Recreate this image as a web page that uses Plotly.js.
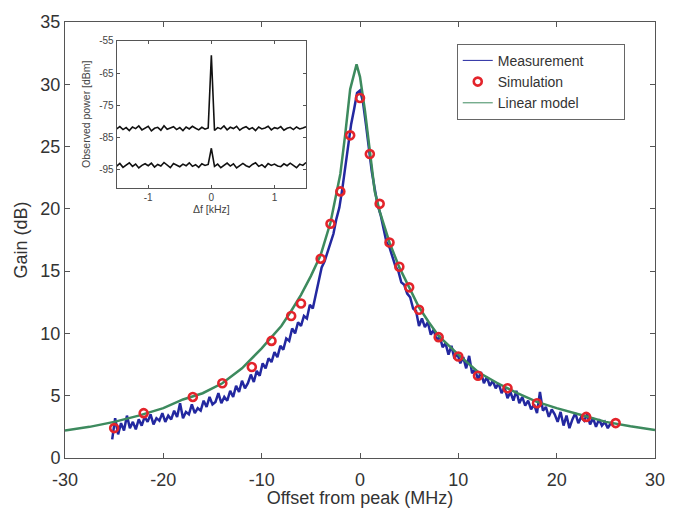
<!DOCTYPE html>
<html>
<head>
<meta charset="utf-8">
<script src="https://cdn.plot.ly/plotly-3.0.1.min.js"></script>
<style>html,body{margin:0;padding:0;background:#fff;}#chart{width:679px;height:508px;}</style>
</head>
<body>
<div id="chart"></div>
<script>
// ---- Main chart data ----
// Measurement (blue), sampled every 0.3 MHz from -25.2 MHz
const measStart = -25.2;
const measStep = 0.3;
const measGain = [
  1.5, 3.2, 1.9, 2.8, 2.2, 3.4, 2.4, 2.9, 2.3, 3.1,
  2.6, 3.3, 2.9, 3.5, 2.7, 3.2, 3.0, 3.6, 2.9, 3.4,
  3.1, 3.8, 3.3, 4.4, 3.2, 3.7, 3.5, 4.3, 3.6, 4.0,
  3.8, 4.6, 4.1, 4.9, 4.3, 4.5, 5.2, 4.4, 4.9, 4.6,
  5.4, 4.9, 5.8, 5.3, 6.2, 5.6, 6.0, 6.7, 6.1, 7.0,
  6.6, 7.6, 7.2, 8.0, 7.7, 8.5, 8.1, 9.0, 8.7, 9.6,
  9.4, 10.4, 10.0, 10.9, 10.6, 11.4, 11.2, 12.3, 12.0, 13.2,
  14.2, 15.3, 15.8, 16.6, 17.4, 18.0, 19.2, 20.1, 21.6, 23.4,
  25.2, 26.8, 28.0, 29.3, 29.5, 28.6, 26.8, 24.8, 23.0, 21.6,
  20.3, 19.5, 18.4, 17.3, 16.9, 16.2, 15.4, 15.0, 14.1, 13.9,
  13.2, 12.9, 12.0, 11.8, 10.6, 11.2, 10.5, 10.9, 9.9, 10.3,
  9.4, 9.8, 8.9, 9.2, 8.3, 9.0, 8.0, 8.4, 7.6, 8.1,
  7.2, 8.2, 6.8, 7.1, 6.3, 6.9, 6.0, 6.5, 5.8, 6.2,
  5.6, 6.0, 5.2, 5.7, 4.8, 5.3, 4.6, 5.4, 4.4, 4.9,
  4.2, 4.6, 3.9, 4.3, 3.6, 5.3, 3.8, 4.1, 3.3, 3.9,
  3.5, 2.9, 3.7, 2.6, 3.4, 2.4, 3.1, 3.6, 2.8, 3.3,
  3.0, 3.5, 2.7, 3.2, 2.5, 3.1, 2.6, 2.9, 2.4, 2.8,
  2.7
];
const measOffset = measGain.map((_, i) => +(measStart + i * measStep).toFixed(2));

// Simulation (red circles)
const simOffset = [-25, -22, -17, -14, -11, -9, -7, -6, -4, -3, -2, -1, 0, 1, 2, 3, 4, 5, 6, 8, 10, 12, 15, 18, 23, 26];
const simGain   = [2.4, 3.6, 4.9, 6.0, 7.3, 9.4, 11.4, 12.4, 16.0, 18.8, 21.4, 25.9, 28.9, 24.4, 20.4, 17.3, 15.35, 13.7, 11.9, 9.7, 8.15, 6.6, 5.6, 4.4, 3.3, 2.8];

// Linear model (green)
const linOffset = [-30, -27.5, -25, -22.5, -20, -18, -16, -14, -12, -11, -10, -9, -8, -7, -6, -5, -4, -3, -2.5, -2, -1.5, -1, -0.35, 0, 0.5, 1, 1.5, 2, 3, 4, 5, 6, 7, 8, 10, 12, 14, 16, 18, 20, 22.5, 25, 27.5, 30];
const linGain   = [2.2, 2.5, 2.9, 3.4, 4.0, 4.7, 5.2, 6.0, 7.2, 8.0, 8.8, 9.7, 10.6, 11.8, 13.1, 14.6, 16.3, 18.9, 20.8, 22.8, 26.0, 29.6, 31.6, 30.6, 27.9, 24.6, 21.4, 19.8, 17.3, 15.3, 13.7, 12.1, 10.9, 9.8, 8.3, 6.9, 6.0, 5.2, 4.5, 4.0, 3.45, 2.9, 2.55, 2.25];

// ---- Inset data (observed power vs delta f) ----
const insetStart = -1.5;
const insetStep = 0.05;
const powerUpper = [
  -82.3, -81.6, -82.5, -81.9, -82.8, -81.7, -82.2, -81.4, -82.6, -82.0,
  -81.5, -82.9, -82.1, -81.8, -82.7, -81.3, -82.4, -82.0, -81.6, -82.5,
  -81.9, -82.8, -81.7, -82.3, -81.5, -82.1, -82.6, -81.8, -82.4, -82.0,
  -59.5,
  -82.8, -81.9, -82.3, -81.4, -82.6, -81.8, -82.2, -81.5, -82.7, -82.0,
  -81.6, -82.4, -81.9, -82.8, -81.7, -82.3, -82.0, -81.5, -82.6, -81.9,
  -82.2, -81.6, -82.7, -82.1, -81.8, -82.5, -81.7, -82.3, -82.0, -81.6
];
const powerLower = [
  -93.8, -93.0, -94.2, -93.4, -92.8, -93.9, -93.2, -94.4, -93.6, -93.1,
  -93.7, -92.9, -94.1, -93.3, -93.8, -92.7, -93.5, -94.3, -93.0, -93.6,
  -94.0, -93.2, -93.7, -92.8, -93.9, -93.4, -94.2, -93.1, -93.6, -93.3,
  -88.3,
  -93.9, -93.2, -94.3, -93.5, -92.9, -93.8, -93.1, -94.4, -93.6, -93.0,
  -93.7, -94.1, -93.3, -92.8, -93.9, -93.4, -94.2, -93.0, -93.6, -93.2,
  -93.8, -94.0, -93.1, -93.7, -92.9, -93.5, -94.3, -93.2, -93.6, -92.7
];
const insetDf = powerUpper.map((_, i) => +(insetStart + i * insetStep).toFixed(3));

const xTicks = [-30, -20, -10, 0, 10, 20, 30];
const yTicks = [0, 5, 10, 15, 20, 25, 30, 35];
const insetXTicks = [-1, 0, 1];
const insetYTicks = [-95, -85, -75, -65, -55];

const BLUE = '#2328a0', GREEN = '#3d8a5e', RED = '#e3242b';
const FONT = 'Liberation Sans, Arial, sans-serif';
const PAD = '\u00a0'.repeat(9); // widens the legend box like the original

const traces = [
  {x: measOffset, y: measGain, type: 'scatter', mode: 'lines', name: 'Measurement',
   line: {color: BLUE, width: 2.5}, showlegend: false},
  {x: linOffset, y: linGain, type: 'scatter', mode: 'lines', name: 'Linear model',
   line: {color: GREEN, width: 2.5}, showlegend: false},
  {x: simOffset, y: simGain, type: 'scatter', mode: 'markers', name: 'Simulation',
   marker: {symbol: 'circle-open', size: 8, color: RED, line: {color: RED, width: 2.6}}, showlegend: false},
  // legend entries (thin sample lines as in the original legend)
  {x: [null], y: [null], type: 'scatter', mode: 'lines', name: 'Measurement' + PAD,
   line: {color: BLUE, width: 1}},
  {x: [null], y: [null], type: 'scatter', mode: 'markers', name: 'Simulation',
   marker: {symbol: 'circle-open', size: 8, color: RED, line: {color: RED, width: 2.6}}},
  {x: [null], y: [null], type: 'scatter', mode: 'lines', name: 'Linear model',
   line: {color: GREEN, width: 1}},
  // inset
  {x: insetDf, y: powerUpper, xaxis: 'x2', yaxis: 'y2', type: 'scatter', mode: 'lines',
   line: {color: '#111', width: 1.6}, showlegend: false},
  {x: insetDf, y: powerLower, xaxis: 'x2', yaxis: 'y2', type: 'scatter', mode: 'lines',
   line: {color: '#111', width: 1.6}, showlegend: false}
];

const axisCommon = {
  showline: true, linecolor: '#555', linewidth: 1, mirror: 'ticks',
  ticks: 'inside', ticklen: 5, tickcolor: '#555', showgrid: false, zeroline: false
};

const layout = {
  width: 679, height: 508,
  margin: {l: 65, r: 24, t: 22, b: 50},
  paper_bgcolor: '#fff', plot_bgcolor: '#fff',
  font: {family: FONT, color: '#333'},
  showlegend: true,
  legend: {x: 0.664, y: 0.95, xanchor: 'left', yanchor: 'top',
    bordercolor: '#666', borderwidth: 1, bgcolor: '#fff',
    font: {size: 14, color: '#333'}, tracegroupgap: 0},
  xaxis: Object.assign({}, axisCommon, {
    range: [-30, 30], tickvals: xTicks, ticktext: xTicks.map(String),
    tickfont: {size: 18, color: '#333'}, ticklabelstandoff: 5,
    title: {text: 'Offset from peak (MHz)', font: {size: 18, color: '#333'}, standoff: 2}
  }),
  yaxis: Object.assign({}, axisCommon, {
    range: [0, 35], tickvals: yTicks, ticktext: yTicks.map(String),
    tickfont: {size: 18, color: '#333'},
    title: {text: 'Gain (dB)', font: {size: 18, color: '#333'}, standoff: 8}
  }),
  xaxis2: Object.assign({}, axisCommon, {
    domain: [0.0876, 0.4085], anchor: 'y2', range: [-1.5, 1.5],
    tickvals: insetXTicks, ticktext: insetXTicks.map(String), ticklen: 3,
    tickfont: {size: 10, color: '#444'},
    title: {text: 'Δf [kHz]', font: {size: 10.5, color: '#444'}, standoff: 2}
  }),
  yaxis2: Object.assign({}, axisCommon, {
    domain: [0.620, 0.957], anchor: 'x2', range: [-100.5, -55],
    tickvals: insetYTicks, ticktext: insetYTicks.map(String), ticklen: 3,
    tickfont: {size: 10, color: '#444'},
    title: {text: 'Observed power [dBm]', font: {size: 10.5, color: '#444'}, standoff: 6}
  })
};

Plotly.newPlot('chart', traces, layout, {displayModeBar: false, staticPlot: true});
</script>
</body>
</html>
